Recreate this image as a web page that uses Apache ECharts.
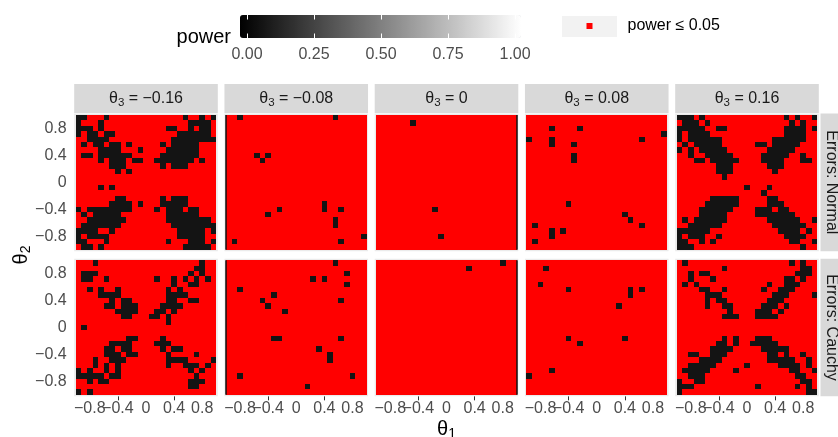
<!DOCTYPE html>
<html>
<head>
<meta charset="utf-8">
<script src="https://cdn.jsdelivr.net/npm/echarts@6/dist/echarts.min.js"></script>
<style>html,body{margin:0;padding:0;background:#fff}#chart{width:838px;height:437px}</style>
</head>
<body>
<div id="chart"></div>
<script>
// ---------------- data ----------------
// cell centres of the theta1 / theta2 grid
const thetaCenters = [-0.96,-0.88,-0.8,-0.72,-0.64,-0.56,-0.48,-0.4,-0.32,-0.24,-0.16,-0.08,0,0.08,0.16,0.24,0.32,0.4,0.48,0.56,0.64,0.72,0.8,0.88,0.96];
const cellHalf = 0.04;
const theta3Labels = ['−0.16', '−0.08', '0', '0.08', '0.16'];
const errorLabels = ['Normal', 'Cauchy'];
const axisTicks = [-0.8, -0.4, 0, 0.4, 0.8];
const axisTickLabels = ['−0.8', '−0.4', '0', '0.4', '0.8'];
const legendTicks = [0, 0.25, 0.5, 0.75, 1];
const legendTickLabels = ['0.00', '0.25', '0.50', '0.75', '1.00'];
const powerThreshold = 0.05;
const powerDark = 0.08;   // estimated power of cells above the threshold
const powerLow = 0.03;    // estimated power of cells at or below the threshold

// For every panel: rows from theta2 = 0.96 (top) to -0.96 (bottom);
// each row lists the theta1 column indices (0 = -0.96 ... 24 = 0.96) with power > 0.05
const normalM016 = [
 [0,1,5,19,22,24],[0,4,20,21,22,23],[0,1,2,4,16,17,20,22,23],[0,2,3,5,6,18,19,20,21,22,23],
 [2,3,4,5,17,18,19,20,21,22,23,24],[1,3,4,6,7,9,15,17,18,19,20,21],[4,5,6,7,11,16,17,18,19,20,21],
 [1,2,4,5,6,7,8,9,15,16,17,18,19,20,21],[4,6,7,8,10,11,14,15,16,17,18,19,20,22],[6,7,8,15,17,18,19],
 [7,9],[],[],[4,6],[],[7,8,15,17,18,19],[6,7,8,9,11,15,16,17,18,19],
 [0,2,3,4,5,6,7,8,9,14,16,17,18,20,21],[1,3,4,5,6,7,16,17,18,19,20,21],
 [2,3,4,5,6,7,8,16,17,18,19,20,21,22,23],[1,2,3,4,5,6,7,17,18,19,20,21,22,23,24],
 [0,1,2,3,6,18,19,20,21,22,24],[0,2,3,4,5,18,19,20,21,22],[0,1,5,16,20,21,22,24],[1,2,4,19,20,21,22,23]
];
const normalM008 = [
 [2,19],[],[],[],[],[],[],[5,7],[6],[],[],[],[],[],[],[],[17],[9,17,20],[7],[19],[19],[],[24],[1,20],[]
];
const normal000 = [
 [],[6],[],[],[],[],[],[],[],[],[],[],[],[],[],[],[],[10],[],[],[],[],[11],[],[]
];
const normalP008 = [
 [],[],[4,9],[24],[0,4,20],[4,8],[],[8],[8],[],[],[],[],[],[],[],[7],[],[17],[18],[1,20],[4,6],[4],[1],[]
];
const normalP016 = [
 [0,1,2,4,19,21,24],[1,2,3,5,20,22],[0,1,2,3,4,7,8,19,20,21,22,24],[0,2,3,4,5,19,20,21,22],
 [0,2,3,4,5,6,7,17,18,19,20,21,22],[1,3,4,5,6,7,14,15,17,18,19,20,21],[0,2,4,5,6,7,8,16,17,18,19,20],
 [2,5,6,7,8,9,15,16,17,18,19,22],[3,4,6,7,8,9,10,15,16,17,18,22,23],[7,8,9,16,17,18],[7,8,9,17],[8],[],
 [12,16],[15],[6,7,8,9,10,16,17],[5,6,7,8,9,10,16,17,18],[4,5,6,7,8,9,14,15,16,18,19],
 [4,5,6,7,8,14,15,16,17,18,19,20],[1,3,4,5,6,7,8,16,17,18,19,20,21,24],[2,3,4,5,6,7,17,18,19,20,21,22],
 [0,1,2,3,4,5,18,19,20,21,23],[0,2,3,4,7,19,20,21,22],[0,1,4,6,20,21,24],[0,1,2,22]
];
const cauchyM016 = [
 [3,22],[21,22],[1,2,3,20,22],[1,2,5,14,17,19,21,23],[17,20,21],[2,4,7,16,18],[4,5,6,7,16,17,18,19],
 [6,8,9,16,17,20,21],[5,6,8,9,10,15,16,17,18],[7,8,9,10,14,15,17],[8,9,13,14,16],[16],[1],[],
 [9,10,15],[6,7,8,9,14,15,16],[5,6,8,9,15,17,18],[5,6,7,9,10,16,21],[3,6,7,8,16,17,18,19,24],
 [3,5,7,16,19,20,21,23],[0,2,5,7,20,22],[0,1,2,3,4,6,7,21],[2,4,5,20,21,22],[20,21],[0,2]
];
const cauchyM008 = [
 [19],[],[21],[15,17],[21],[2],[8],[6,20],[7],[10],[],[],[],[],[8,9,20],[],[16],[18],[18],[],[],[2,22],[],[14],[]
];
const cauchy000 = [
 [22],[16],[],[],[],[],[],[],[],[],[],[],[],[],[],[],[],[],[],[],[],[],[],[],[]
];
const cauchyP008 = [
 [],[3],[],[],[2],[7,18,20],[18],[],[16],[],[],[],[],[],[7,17],[9],[],[],[],[],[4],[0],[],[],[]
];
const cauchyP016 = [
 [1,20,22],[8,22,23],[2,4,5,21,22,23],[2,6,19,20,22],[1,3,16,19,20,21],[4,5,8,15,18,19,20],
 [5,6,7,17,18,19,24],[5,7,8,16,17,18],[5,8,9,15,16,17,19],[9,14,15,16,18],[8,9,10,14,15,16,17],
 [],[],[],[8,10,14,15,16],[7,8,10,13,14,15,16,17],[6,7,8,9,15,16,17,18,19],[2,3,6,7,8,16,17,19,22],
 [4,5,6,7,16,17,18,19,20,23],[2,3,4,5,6,12,18,19,20,21,23],[1,2,3,4,5,10,20,21,24],[2,3,4,21,22],
 [0,3,4,22,23],[0,1,2,14,21,23],[0,23,24]
];
const panelCells = [
 [normalM016, normalM008, normal000, normalP008, normalP016],
 [cauchyM016, cauchyM008, cauchy000, cauchyP008, cauchyP016]
];

// ---------------- layout / style ----------------
const FONT = "'Liberation Sans', Arial, Helvetica, sans-serif";
const panelLeft0 = 74.2, panelStep = 150.25, panelW = 143.6;
const panelTops = [113.5, 258.65], panelH = 137.7;
const axisExtent = 1.022;
const legendName = 'power ≤ 0.05';

function buildData(rows) {
  const out = [];
  for (let r = 0; r < rows.length; r++) {
    const y = thetaCenters[thetaCenters.length - 1 - r];
    const dark = new Set(rows[r]);
    for (let c = 0; c < thetaCenters.length; c++) {
      out.push([thetaCenters[c], y, dark.has(c) ? powerDark : powerLow]);
    }
  }
  return out;
}
function tickLabel(values, labels) {
  return function (v) {
    for (let i = 0; i < values.length; i++) if (Math.abs(values[i] - v) < 1e-9) return labels[i];
    return '';
  };
}
function renderCell(params, api) {
  const x = api.value(0), y = api.value(1), p = api.value(2);
  const a = api.coord([x - cellHalf, y + cellHalf]);
  const b = api.coord([x + cellHalf, y - cellHalf]);
  const x0 = Math.round(a[0]), x1 = Math.round(b[0]);
  const y0 = Math.round(a[1]), y1 = Math.round(b[1]);
  return {
    type: 'rect',
    shape: { x: x0, y: y0, width: x1 - x0, height: y1 - y0 },
    style: { fill: p <= powerThreshold ? '#ff0000' : api.visual('color') }
  };
}

const grids = [], xAxes = [], yAxes = [], series = [], graphics = [];
const labelStyle = { color: '#4d4d4d', fontSize: 16, fontFamily: FONT };
const stripRich = {
  a: { fontSize: 16, fontFamily: FONT, fill: '#1a1a1a' },
  b: { fontSize: 11.5, fontFamily: FONT, fill: '#1a1a1a', padding: [8, 0, 0, 0] }
};
// even / odd tick subsets: drawn on two stacked axes so touching labels are all kept
const tickSetA = axisTicks.filter((v, i) => i % 2 === 0);
const tickSetB = axisTicks.filter((v, i) => i % 2 === 1);

function xAxisDef(gridIndex, showTicks, values) {
  return { gridIndex: gridIndex, type: 'value', min: -axisExtent, max: axisExtent, position: 'bottom',
    axisLine: { show: false }, splitLine: { show: false },
    axisTick: { show: showTicks, length: 4, lineStyle: { color: '#333333', width: 1 }, customValues: values },
    axisLabel: Object.assign({ show: showTicks, margin: 4, customValues: values, hideOverlap: false,
      formatter: tickLabel(axisTicks, axisTickLabels) }, labelStyle) };
}

for (let r = 0; r < 2; r++) {
  for (let k = 0; k < 5; k++) {
    const i = r * 5 + k;
    const left = panelLeft0 + panelStep * k;
    grids.push({ left: left, top: panelTops[r], width: panelW, height: panelH,
      show: true, backgroundColor: '#ebebeb', borderWidth: 0 });
    const xIndex = xAxes.length;
    xAxes.push(xAxisDef(i, r === 1, tickSetA));
    if (r === 1) xAxes.push(xAxisDef(i, true, tickSetB));
    yAxes.push({ gridIndex: i, type: 'value', min: -axisExtent, max: axisExtent,
      axisLine: { show: false }, splitLine: { show: false },
      axisTick: { show: k === 0, length: 4, lineStyle: { color: '#333333', width: 1 }, customValues: axisTicks },
      axisLabel: Object.assign({ show: k === 0, margin: 7.5, customValues: axisTicks, hideOverlap: false,
        formatter: tickLabel(axisTicks, axisTickLabels) }, labelStyle) });
    const s = {
      type: 'custom', name: legendName, xAxisIndex: xIndex, yAxisIndex: i,
      data: buildData(panelCells[r][k]), renderItem: renderCell,
      encode: { x: 0, y: 1 }, itemStyle: { color: '#ff0000' }, silent: true, animation: false
    };
    if (k === 1 || k === 2) {
      const ex = k === 1 ? -1 : 1;
      s.markLine = { silent: true, symbol: 'none', animation: false, label: { show: false },
        lineStyle: { color: '#111111', width: 1.5, type: 'solid' },
        data: [[{ coord: [ex, -1] }, { coord: [ex, 1] }]] };
    }
    series.push(s);
    if (r === 0) {
      graphics.push({ type: 'rect', shape: { x: left, y: 84, width: panelW, height: 29 },
        style: { fill: '#d9d9d9' }, silent: true });
      graphics.push({ type: 'text', x: left + panelW / 2, y: 98.5, silent: true,
        style: { text: '{a|θ}{b|3}{a| = ' + theta3Labels[k] + '}', rich: stripRich,
          align: 'center', verticalAlign: 'middle' } });
    }
  }
  graphics.push({ type: 'rect', shape: { x: 820.5, y: panelTops[r], width: 30, height: panelH },
    style: { fill: '#d9d9d9' }, silent: true });
  graphics.push({ type: 'text', x: 831.5, y: panelTops[r] + panelH / 2, rotation: -Math.PI / 2, silent: true,
    style: { text: 'Errors: ' + errorLabels[r], fill: '#1a1a1a', fontSize: 16, fontFamily: FONT,
      align: 'center', verticalAlign: 'middle' } });
}

// colour bar axis (ticks & labels only)
grids.push({ left: 240, top: 15, width: 281, height: 23, show: false });
xAxes.push({ gridIndex: 10, type: 'value', min: -0.026, max: 1.022, position: 'bottom', z: 10,
  axisLine: { show: false }, splitLine: { show: false },
  axisTick: { show: true, inside: true, length: 4.5, lineStyle: { color: '#ffffff', width: 1 }, customValues: legendTicks },
  axisLabel: Object.assign({ margin: 9, customValues: legendTicks, hideOverlap: false,
    formatter: tickLabel(legendTicks, legendTickLabels) }, labelStyle) });
xAxes.push({ gridIndex: 10, type: 'value', min: -0.026, max: 1.022, position: 'top', z: 10,
  axisLine: { show: false }, splitLine: { show: false },
  axisTick: { show: true, inside: true, length: 4.5, lineStyle: { color: '#ffffff', width: 1 }, customValues: legendTicks },
  axisLabel: { show: false } });
yAxes.push({ gridIndex: 10, type: 'value', min: 0, max: 1, show: false });

// legend decorations and titles
graphics.push({ type: 'text', x: 231, y: 37, silent: true,
  style: { text: 'power', fill: '#000000', fontSize: 20, fontFamily: FONT, align: 'right', verticalAlign: 'middle' } });
graphics.push({ type: 'rect', shape: { x: 562, y: 16, width: 55, height: 21 }, style: { fill: '#f2f2f2' }, silent: true, z: -1 });
const titleRich = {
  a: { fontSize: 20, fontFamily: FONT, fill: '#000000' },
  b: { fontSize: 14, fontFamily: FONT, fill: '#000000', padding: [10, 0, 0, 0] }
};
graphics.push({ type: 'text', x: 446.5, y: 429, silent: true,
  style: { text: '{a|θ}{b|1}', rich: titleRich, align: 'center', verticalAlign: 'middle' } });
graphics.push({ type: 'text', x: 21, y: 255, rotation: Math.PI / 2, silent: true,
  style: { text: '{a|θ}{b|2}', rich: titleRich, align: 'center', verticalAlign: 'middle' } });

const chart = echarts.init(document.getElementById('chart'), null, { renderer: 'canvas' });
chart.setOption({
  animation: false,
  backgroundColor: '#ffffff',
  grid: grids,
  xAxis: xAxes,
  yAxis: yAxes,
  visualMap: {
    type: 'continuous', seriesIndex: [0,1,2,3,4,5,6,7,8,9], dimension: 2, min: 0, max: 1,
    inRange: { color: ['#000000', '#ffffff'] }, orient: 'horizontal',
    left: 240, top: 15, itemWidth: 23, itemHeight: 281, padding: 0,
    calculable: false, hoverLink: false, z: 4
  },
  legend: {
    data: [{ name: legendName, icon: 'rect', itemStyle: { color: '#ff0000' } }],
    left: 586.5, top: 18, itemWidth: 6, itemHeight: 6, padding: 0, selectedMode: false,
    textStyle: { fontSize: 16, color: '#000000', fontFamily: FONT, padding: [0, 0, 0, 30] }
  },
  graphic: graphics,
  series: series
});
</script>
</body>
</html>
